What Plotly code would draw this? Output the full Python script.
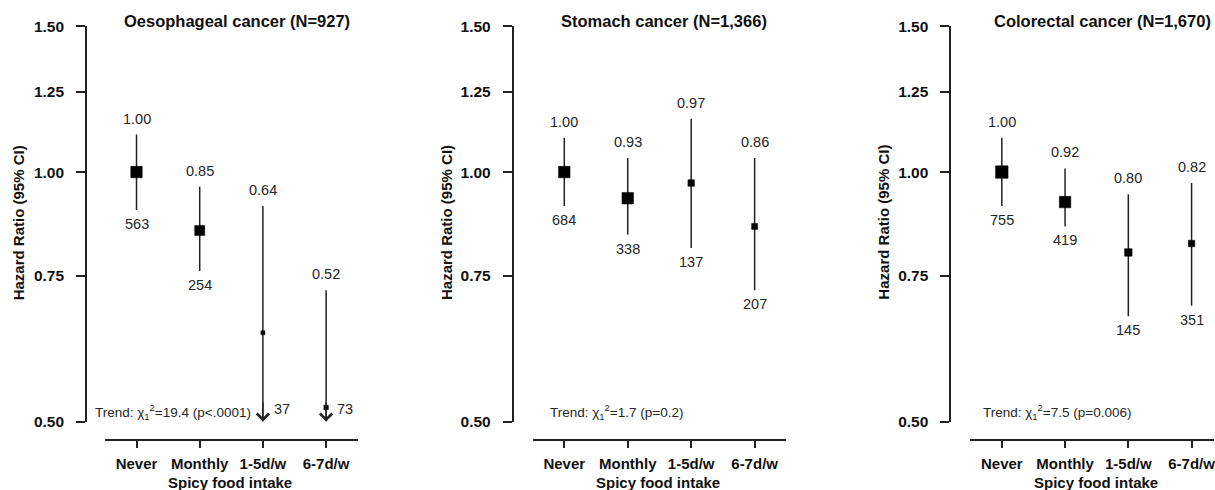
import math
import plotly.graph_objects as go

# ---------------- data ----------------
categories = ["Never", "Monthly", "1-5d/w", "6-7d/w"]
panel_titles = ["Oesophageal cancer (N=927)", "Stomach cancer (N=1,366)", "Colorectal cancer (N=1,670)"]
x_title = "Spicy food intake"
y_title = "Hazard Ratio (95% CI)"
y_tick_vals = [0.50, 0.75, 1.00, 1.25, 1.50]
y_tick_text = ["0.50", "0.75", "1.00", "1.25", "1.50"]

oes_hr = [1.00, 0.85, 0.64, 0.52]
oes_lo = [0.90, 0.76, 0.45, 0.38]
oes_hi = [1.11, 0.96, 0.91, 0.72]
oes_n = [563, 254, 37, 73]

sto_hr = [1.00, 0.93, 0.97, 0.86]
sto_lo = [0.91, 0.84, 0.81, 0.72]
sto_hi = [1.10, 1.04, 1.16, 1.04]
sto_n = [684, 338, 137, 207]

col_hr = [1.00, 0.92, 0.80, 0.82]
col_lo = [0.91, 0.86, 0.67, 0.69]
col_hi = [1.10, 1.01, 0.94, 0.97]
col_n = [755, 419, 145, 351]

trend_chi2 = [19.4, 1.7, 7.5]
trend_p = ["p&lt;.0001", "p=0.2", "p=0.006"]

# ---------------- style / layout ----------------
W, H = 1215, 490
FONT = "Arial, Liberation Sans, Helvetica, sans-serif"
INK = "#111111"
LINE = "#222222"
LBL = "#262626"
Y_MIN, Y_MAX = 0.5, 1.5
# vertical pixel mapping of the paper area as it appears in the photographed page
PY_TOP, PY_SPAN = 10, 470

def fx(px):
    return px / W

def fy(py):
    return 1 - (py - PY_TOP) / PY_SPAN

panels = [
    dict(hr=oes_hr, lo=oes_lo, hi=oes_hi, n=oes_n, x0=105, x1=358, xr=[0.5, 4.5], yax=86,
         title_cx=237, xt_cx=230, trend_x=93, ytitle_x=18, msize=[11.5, 10, 4, 4.5]),
    dict(hr=sto_hr, lo=sto_lo, hi=sto_hi, n=sto_n, x0=533, x1=787, xr=[0.5, 4.5], yax=513,
         title_cx=665, xt_cx=659, trend_x=548, ytitle_x=447, msize=[11.5, 11.5, 6.5, 6]),
    dict(hr=col_hr, lo=col_lo, hi=col_hi, n=col_n, x0=971, x1=1215, xr=[0.5, 0.5 + (1215 - 971) / 63.3],
         yax=951, title_cx=1103, xt_cx=1097, trend_x=982, ytitle_x=884, msize=[12.5, 11.5, 7.5, 6.5]),
]

fig = go.Figure()
annotations = []
layout_axes = {}

for k, p in enumerate(panels):
    sfx = "" if k == 0 else str(k + 1)
    xref, yref = "x" + sfx, "y" + sfx
    xs = [i + 1 for i in range(len(categories))]
    lo_clip = [max(v, Y_MIN) for v in p["lo"]]
    fig.add_trace(go.Scatter(
        x=xs, y=p["hr"], mode="markers", xaxis=xref, yaxis=yref,
        marker=dict(symbol="square", size=p["msize"], color="black", opacity=1,
                    line=dict(width=0.5, color="black")),
        error_y=dict(type="data", symmetric=False,
                     array=[h - r for h, r in zip(p["hi"], p["hr"])],
                     arrayminus=[r - l for r, l in zip(p["hr"], lo_clip)],
                     width=0, thickness=1.5, color=LINE),
        showlegend=False, hoverinfo="skip"))

    for i, x in enumerate(xs):
        # HR label above CI
        annotations.append(dict(x=x, y=math.log10(p["hi"][i]), xref=xref, yref=yref,
                                text=f"{p['hr'][i]:.2f}", showarrow=False, xanchor="center",
                                yanchor="middle", yshift=16,
                                font=dict(family=FONT, size=14.5, color=LBL)))
        if p["lo"][i] < Y_MIN:
            # arrow head for CI truncated at axis minimum
            annotations.append(dict(x=x, y=math.log10(Y_MIN), xref=xref, yref=yref,
                                    ax=x, ay=math.log10(Y_MIN * 1.06), axref=xref, ayref=yref,
                                    text="", showarrow=True, arrowhead=4, arrowsize=1.7,
                                    arrowwidth=1.4, arrowcolor=LINE, standoff=0))
            annotations.append(dict(x=x, y=math.log10(Y_MIN), xref=xref, yref=yref,
                                    text=str(p["n"][i]), showarrow=False, xanchor="center",
                                    yanchor="middle", xshift=19, yshift=13,
                                    font=dict(family=FONT, size=14.5, color=LBL)))
        else:
            annotations.append(dict(x=x, y=math.log10(lo_clip[i]), xref=xref, yref=yref,
                                    text=str(p["n"][i]), showarrow=False, xanchor="center",
                                    yanchor="middle", yshift=-14,
                                    font=dict(family=FONT, size=14.5, color=LBL)))

    layout_axes["xaxis" + sfx] = dict(
        domain=[fx(p["x0"]), min(fx(p["x1"]), 1.0)], range=p["xr"], anchor="free", position=fy(438),
        tickvals=xs, ticktext=categories, ticks="outside", ticklen=8, tickwidth=1.5,
        tickcolor=LINE, showline=True, linecolor=LINE, linewidth=1.5, showgrid=False, zeroline=False,
        tickfont=dict(family=FONT, size=15, color=INK, weight="bold"), ticklabelstandoff=3,
        ticklabeloverflow="allow", fixedrange=True)
    layout_axes["yaxis" + sfx] = dict(
        type="log", domain=[fy(420), fy(27)], range=[math.log10(Y_MIN), math.log10(Y_MAX)],
        anchor="free", position=fx(p["yax"]), tickvals=y_tick_vals, ticktext=y_tick_text,
        ticks="outside", ticklen=9, tickwidth=1.5, tickcolor=LINE, showline=True, linecolor=LINE,
        linewidth=1.5, showgrid=False, zeroline=False, ticklabelstandoff=9,
        tickfont=dict(family=FONT, size=15.5, color=INK, weight="bold"), fixedrange=True)

    annotations.append(dict(x=fx(p["title_cx"]), y=fy(22), xref="paper", yref="paper",
                            xanchor="center", yanchor="middle",
                            text=f"<b>{panel_titles[k]}</b>", showarrow=False,
                            font=dict(family=FONT, size=16.5, color=INK)))
    annotations.append(dict(x=fx(p["xt_cx"]), y=fy(480), xref="paper", yref="paper",
                            xanchor="center", yanchor="middle",
                            text=f"<b>{x_title}</b>", showarrow=False,
                            font=dict(family=FONT, size=15, color=INK)))
    annotations.append(dict(x=fx(p["ytitle_x"]), y=fy(222), xref="paper", yref="paper",
                            xanchor="center", yanchor="middle",
                            text=f"<b>{y_title}</b>", showarrow=False, textangle=-90,
                            font=dict(family=FONT, size=15, color=INK)))
    annotations.append(dict(x=fx(p["trend_x"]), y=fy(410), xref="paper", yref="paper",
                            xanchor="left", yanchor="middle",
                            text=f"Trend: χ<sub>1</sub><sup>2</sup>={trend_chi2[k]} ({trend_p[k]})",
                            showarrow=False, font=dict(family=FONT, size=13.5, color=LBL)))

fig.update_layout(width=W, height=H, margin=dict(l=0, r=0, t=0, b=0),
                  paper_bgcolor="white", plot_bgcolor="white", annotations=annotations,
                  **layout_axes)

PAGE_FIX = (
    "var d=document.getElementById('{plot_id}');"
    "d.style.position='fixed';d.style.left='0px';d.style.top='0px';"
    "document.documentElement.style.margin='0';document.documentElement.style.padding='0';"
    "document.documentElement.style.overflow='hidden';"
    "document.body.style.margin='0';document.body.style.padding='0';"
    "document.body.style.overflow='hidden';"
    "document.body.style.height='490px';document.documentElement.style.height='490px';"
)

fig.write_html("out.html", config={"displayModeBar": False}, post_script=PAGE_FIX)
